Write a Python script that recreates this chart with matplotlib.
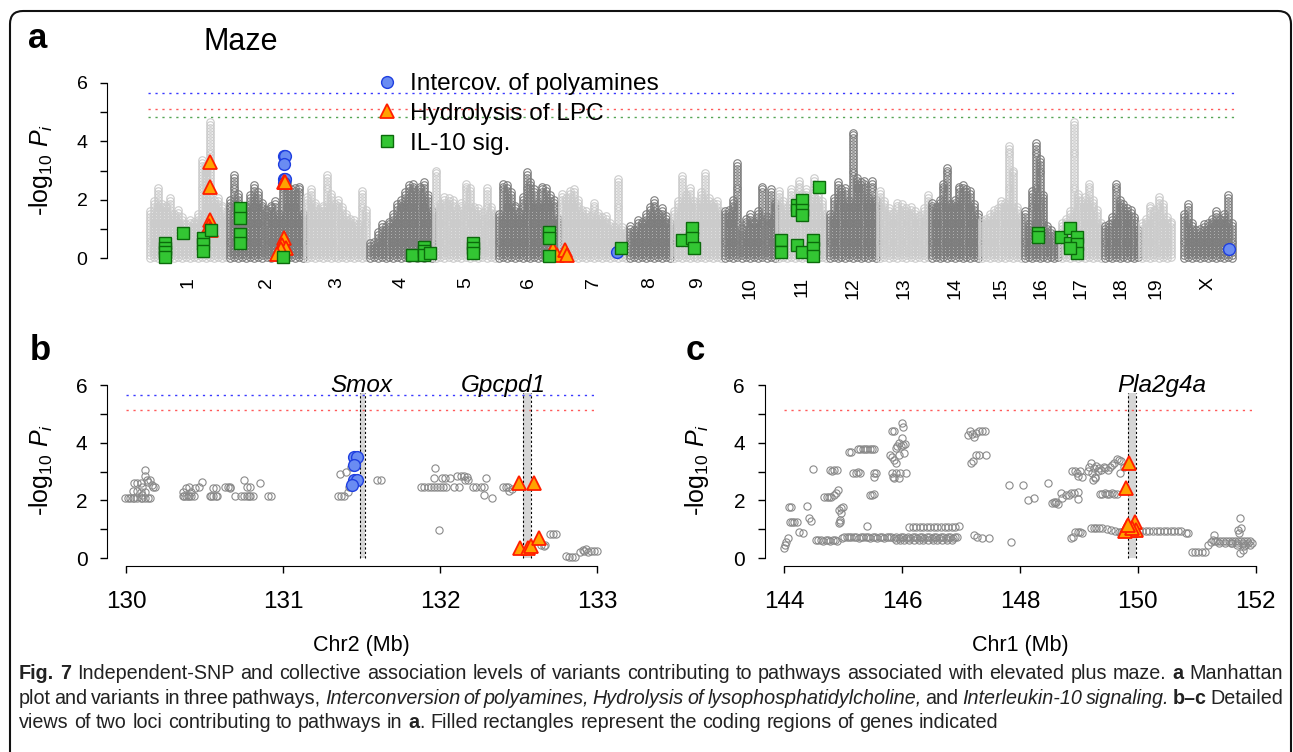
import numpy as np
import matplotlib
matplotlib.use('Agg')
import matplotlib.pyplot as plt
from matplotlib.lines import Line2D
from matplotlib.patches import FancyBboxPatch, Rectangle
from matplotlib import font_manager

plt.rcParams['font.family'] = ['Liberation Sans', 'DejaVu Sans']
plt.rcParams['mathtext.fontset'] = 'custom'
plt.rcParams['mathtext.rm'] = 'Liberation Sans'
plt.rcParams['mathtext.it'] = 'Liberation Sans:italic'
plt.rcParams['mathtext.bf'] = 'Liberation Sans:bold'

# ---------------- data ----------------
# panel a: chromosome spans on the cumulative genome axis
chroms = ['1', '2', '3', '4', '5', '6', '7', '8', '9', '10',
          '11', '12', '13', '14', '15', '16', '17', '18', '19', 'X']
chrom_start = [148, 228, 305, 368, 434, 497, 560, 628, 672, 723,
               777, 828, 878, 930, 980, 1023, 1060, 1103, 1140, 1182]
chrom_end = [228, 305, 368, 434, 497, 560, 628, 672, 723, 777,
             828, 878, 930, 980, 1023, 1060, 1103, 1140, 1173, 1234]

# column tops (-log10 P) read across each chromosome, left to right
peaks_chr1 = [1.6, 2.0, 2.4, 1.9, 1.8, 2.1, 1.5, 1.7, 1.4, 1.2, 1.3, 1.3, 1.5, 3.4, 3.2, 4.7, 2.0, 2.1, 1.8, 1.5]
peaks_chr2 = [2.0, 2.9, 2.2, 1.6, 1.8, 2.2, 2.5, 2.3, 1.9, 1.7, 1.8, 2.0, 1.5, 2.8, 2.7, 2.4, 2.4, 2.5, 1.5]
peaks_chr3 = [2.1, 2.4, 1.9, 1.7, 1.8, 2.9, 2.2, 1.9, 2.0, 1.8, 1.5, 1.4, 1.3, 1.2, 2.3, 1.7]
peaks_chr4 = [0.5, 0.6, 0.9, 1.2, 1.1, 1.3, 1.5, 1.9, 2.0, 2.3, 2.5, 2.6, 2.3, 2.5, 2.6, 2.2, 1.6]
peaks_chr5 = [3.0, 1.9, 2.1, 2.1, 2.0, 1.7, 1.9, 2.6, 2.4, 1.8, 1.7, 1.6, 2.4, 1.8, 1.5]
peaks_chr6 = [1.5, 2.6, 2.5, 2.3, 1.8, 1.6, 2.1, 2.95, 2.6, 2.4, 1.9, 2.5, 2.4, 2.2, 2.0, 1.4]
peaks_chr7 = [2.2, 2.1, 2.3, 2.4, 2.0, 1.7, 1.6, 1.5, 1.9, 1.6, 1.4, 1.5, 1.2, 1.1, 2.7, 1.1, 0.9]
peaks_chr8 = [1.1, 1.0, 1.3, 1.3, 1.5, 1.8, 2.0, 1.6, 1.7, 1.5, 1.2]
peaks_chr9 = [1.6, 2.0, 2.85, 2.2, 2.4, 2.0, 1.9, 2.3, 2.9, 2.1, 1.9, 2.0, 1.6]
peaks_chr10 = [1.6, 1.7, 2.0, 3.3, 1.0, 1.4, 1.5, 1.3, 1.6, 2.45, 1.4, 2.4, 1.9]
peaks_chr11 = [2.3, 2.0, 1.7, 2.35, 2.0, 2.7, 2.2, 2.4, 2.0, 2.75, 2.2, 2.0, 1.5]
peaks_chr12 = [1.5, 2.1, 2.6, 2.4, 2.45, 2.0, 4.33, 2.8, 2.6, 2.65, 2.1, 2.65, 2.0]
peaks_chr13 = [2.3, 2.0, 1.7, 1.6, 1.9, 1.85, 1.7, 1.8, 1.6, 1.5, 1.7, 2.15]
peaks_chr14 = [1.9, 1.8, 2.0, 2.6, 3.15, 1.9, 2.0, 2.5, 2.5, 2.4, 2.3, 1.9, 1.5]
peaks_chr15 = [1.3, 1.4, 1.5, 1.7, 1.7, 2.0, 1.9, 3.87, 3.0, 1.75, 1.4]
peaks_chr16 = [1.6, 1.2, 2.3, 3.98, 3.4, 2.2, 1.1, 1.0, 0.8, 0.6]
peaks_chr17 = [1.2, 1.35, 1.6, 4.67, 2.2, 2.0, 2.1, 2.56, 2.0, 1.7, 1.2]
peaks_chr18 = [1.1, 1.2, 1.4, 2.55, 2.0, 1.93, 1.7, 1.65, 1.4, 1.0]
peaks_chr19 = [1.2, 1.4, 1.87, 1.7, 2.16, 1.9, 1.4, 1.3]
peaks_chrX = [1.5, 1.89, 1.2, 0.96, 1.0, 1.24, 1.2, 1.4, 1.6, 1.4, 1.5, 2.16, 1.2]
peaks = [peaks_chr1, peaks_chr2, peaks_chr3, peaks_chr4, peaks_chr5, peaks_chr6,
         peaks_chr7, peaks_chr8, peaks_chr9, peaks_chr10, peaks_chr11, peaks_chr12,
         peaks_chr13, peaks_chr14, peaks_chr15, peaks_chr16, peaks_chr17, peaks_chr18,
         peaks_chr19, peaks_chrX]

# pathway variants in panel a (cumulative position, -log10 P)
poly_pos = [284, 285, 284, 284, 285, 284, 617, 1229]
poly_p = [3.50, 3.48, 3.21, 2.72, 2.70, 2.57, 0.20, 0.31]
lpc_pos = [210, 210, 210, 209, 210, 211, 284, 285, 284, 282, 286, 281, 277, 553, 557, 565, 567]
lpc_p = [3.30, 2.45, 1.30, 1.10, 1.00, 0.95, 2.62, 2.60, 0.70, 0.45, 0.35, 0.30, 0.15, 0.30, 0.12, 0.28, 0.10]
il10_pos = [165, 165, 165, 165, 183, 203, 203, 203, 211, 240, 240, 240, 240, 283,
            412, 424, 424, 424, 430, 473, 473, 473, 549, 549, 549, 621,
            682, 692, 692, 694, 781, 781, 797, 797, 802, 802, 802, 797, 802,
            813, 813, 813, 819, 1038, 1038, 1061, 1070, 1070, 1077, 1077, 1077, 1070]
il10_p = [0.52, 0.35, 0.20, 0.05, 0.87, 0.70, 0.47, 0.24, 0.96, 1.72, 1.38, 0.82, 0.50, 0.05,
          0.10, 0.39, 0.25, 0.10, 0.16, 0.50, 0.33, 0.16, 0.90, 0.67, 0.07, 0.35,
          0.62, 1.02, 0.67, 0.33, 0.62, 0.22, 1.82, 1.64, 1.99, 1.64, 1.47, 0.45, 0.22,
          0.62, 0.33, 0.07, 2.44, 0.85, 0.71, 0.73, 1.02, 0.50, 0.71, 0.48, 0.16, 0.33]

# significance thresholds
thr_poly, thr_lpc, thr_il10 = 5.65, 5.12, 4.84

# panel b: Chr2 locus (Mb, -log10 P)
b_mb = [129.99, 130.01, 130.02, 130.04, 130.05, 130.07, 130.09, 130.10, 130.12, 130.14, 130.15,
        130.04, 130.07, 130.05, 130.07, 130.09, 130.10, 130.12, 130.12, 130.13, 130.14, 130.15,
        130.16, 130.17, 130.18, 130.10, 130.12, 130.09,
        130.36, 130.37, 130.38, 130.39, 130.40, 130.41, 130.43, 130.36, 130.38, 130.40, 130.41,
        130.44, 130.46, 130.48, 130.53, 130.54, 130.55, 130.57, 130.58, 130.55, 130.57, 130.63,
        130.65, 130.66, 130.66, 130.69, 130.73, 130.75, 130.77, 130.78, 130.79, 130.81, 130.75,
        130.77, 130.79, 130.85, 130.90, 130.92,
        131.35, 131.37, 131.39, 131.36, 131.40, 131.41, 131.42, 131.43,
        131.60, 131.62,
        131.88, 131.90, 131.92, 131.94, 131.96, 131.98, 132.00, 132.02, 132.04, 132.09,
        131.96, 131.97, 131.99, 132.01, 132.03, 132.06, 132.11, 132.13, 132.15, 132.17, 132.18,
        132.21, 132.23, 132.26, 132.28, 132.29, 132.28, 132.33, 132.16, 132.12,
        132.40, 132.42, 132.43, 132.44, 132.46,
        132.64, 132.66, 132.67, 132.70, 132.72, 132.74,
        132.80, 132.82, 132.84, 132.86, 132.89, 132.91, 132.92, 132.94, 132.96, 132.98, 133.00, 132.93]
b_p = [2.08, 2.08, 2.08, 2.08, 2.08, 2.08, 2.08, 2.08, 2.08, 2.08, 2.08,
       2.34, 2.34, 2.59, 2.59, 2.59, 2.45, 2.85, 3.06, 2.71, 2.65, 2.71,
       2.53, 2.45, 2.45, 2.19, 2.30, 2.30,
       2.15, 2.15, 2.15, 2.15, 2.15, 2.15, 2.15, 2.30, 2.42, 2.45, 2.30,
       2.42, 2.45, 2.65, 2.15, 2.15, 2.15, 2.15, 2.15, 2.42, 2.42, 2.48,
       2.45, 2.48, 2.42, 2.15, 2.15, 2.15, 2.15, 2.15, 2.15, 2.15, 2.71,
       2.48, 2.48, 2.59, 2.15, 2.15,
       2.15, 2.15, 2.15, 2.92, 3.00, 2.30, 2.45, 3.17,
       2.71, 2.71,
       2.48, 2.48, 2.48, 2.48, 2.48, 2.48, 2.48, 2.48, 2.48, 2.48,
       2.79, 3.11, 0.97, 2.79, 2.79, 2.79, 2.85, 2.85, 2.85, 2.82, 2.71,
       2.48, 2.48, 2.48, 2.48, 2.79, 2.19, 2.08, 2.71, 2.48,
       2.48, 2.48, 2.48, 2.34, 2.40,
       0.45, 0.42, 0.45, 0.82, 0.84, 0.84,
       0.07, 0.05, 0.05, 0.05, 0.22, 0.28, 0.24, 0.22, 0.24, 0.24, 0.24, 0.32]
b_poly_mb = [131.45, 131.47, 131.45, 131.45, 131.47, 131.44]
b_poly_p = [3.52, 3.52, 3.21, 2.71, 2.71, 2.53]
b_lpc_mb = [132.50, 132.60, 132.51, 132.56, 132.58, 132.63]
b_lpc_p = [2.60, 2.60, 0.36, 0.36, 0.42, 0.70]
b_genes = ['Smox', 'Gpcpd1']
b_gene_start = [131.488, 132.529]
b_gene_end = [131.520, 132.582]
b_gene_label_x = [131.50, 132.40]

# panel c: Chr1 locus (Mb, -log10 P)
c_mb = [144.00, 144.01, 144.03, 144.06, 144.08, 144.11, 144.09, 144.13, 144.17, 144.21, 144.25,
        144.31, 144.39, 144.42, 144.46, 144.49,
        144.53, 144.58, 144.62, 144.66, 144.70, 144.74, 144.78, 144.82, 144.86, 144.90,
        144.67, 144.72, 144.76, 144.80, 144.84, 144.88, 144.91,
        144.77, 144.81, 144.85, 144.89,
        144.93, 144.95, 144.97, 144.93, 144.96, 144.99, 144.95,
        144.98, 145.02, 145.06, 145.10, 145.14, 145.18, 145.22, 145.26, 145.30, 145.34, 145.38,
        145.42, 145.46, 145.50, 145.54, 145.58, 145.62, 145.66, 145.70, 145.74, 145.78, 145.82,
        145.86, 145.90, 145.94, 145.98, 146.02, 146.06, 146.10, 146.14, 146.18, 146.22, 146.26,
        146.30, 146.34, 146.38, 146.42, 146.46, 146.50, 146.54, 146.58, 146.62, 146.66, 146.70,
        146.74, 146.78, 146.82, 146.86, 146.90, 146.94,
        145.90, 145.96, 146.04, 146.12, 146.20, 146.28, 146.36, 146.44, 146.52, 146.60, 146.68,
        146.76, 146.84,
        146.12, 146.18, 146.24, 146.30, 146.36, 146.42, 146.48, 146.54, 146.60, 146.66, 146.72,
        146.78, 146.84, 146.90, 146.96,
        145.10, 145.14, 145.17, 145.25, 145.29, 145.33, 145.37, 145.41, 145.45, 145.49, 145.53,
        145.21, 145.25, 145.29, 145.41, 145.45, 145.49, 145.53, 145.52, 145.55, 145.53,
        145.83, 145.86, 145.80, 145.83, 145.86, 145.90, 145.83, 145.85, 145.87, 145.90, 145.94,
        145.97, 146.07, 145.89, 145.92, 145.95, 145.98, 146.00, 146.02, 146.05, 146.03, 146.00,
        146.01, 145.95,
        147.12, 147.15, 147.18, 147.22, 147.25, 147.30, 147.36, 147.40, 147.20, 147.17, 147.26,
        147.30, 147.43, 147.22, 147.27, 147.35, 147.47,
        147.81, 147.85, 148.06, 148.13, 148.24, 148.48,
        148.55, 148.58, 148.60, 148.62, 148.65, 148.69, 148.72, 148.78, 148.83, 148.87, 148.92,
        148.98, 148.98,
        148.88, 148.94, 148.97, 149.02, 148.99, 149.05,
        148.87, 148.90, 148.94, 148.98, 149.02, 149.06,
        149.15, 149.18, 149.20, 149.22, 149.25, 149.27, 149.30, 149.32, 149.35, 149.38, 149.42,
        149.45, 149.49, 149.53, 149.57, 149.60, 149.64, 149.68, 149.72, 149.76, 149.70, 149.24,
        149.28,
        149.36, 149.40, 149.44, 149.48, 149.52, 149.56, 149.60, 149.64,
        149.20, 149.25, 149.30, 149.35, 149.40, 149.48, 149.55, 149.62, 149.68, 149.72, 149.76,
        149.80,
        150.02, 150.08, 150.14, 150.20, 150.26, 150.32, 150.38, 150.44, 150.50, 150.56, 150.62,
        150.68, 150.74, 150.82, 150.86,
        150.92, 150.98, 151.03, 151.09, 151.14,
        151.20, 151.24, 151.28, 151.30, 151.32, 151.35, 151.40, 151.45, 151.50, 151.55, 151.60,
        151.65, 151.70, 151.75, 151.80, 151.85, 151.90,
        151.38, 151.48, 151.58, 151.68, 151.78, 151.88,
        151.73, 151.70, 151.76, 151.72, 151.74, 151.78, 151.80, 151.82, 151.94, 151.90, 151.68,
        151.60]
c_p = [0.34, 0.45, 0.55, 0.68, 1.78, 1.77, 1.26, 1.26, 1.26, 1.26, 0.90,
       0.88, 1.81, 1.38, 1.30, 3.08,
       0.63, 0.63, 0.63, 0.60, 0.63, 0.63, 0.60, 0.63, 0.63, 0.60,
       2.13, 2.13, 2.13, 2.13, 2.19, 2.25, 2.36,
       3.06, 3.03, 3.06, 3.06,
       1.20, 1.32, 1.55, 1.67, 1.72, 1.78, 1.26,
       0.71, 0.72, 0.72, 0.72, 0.72, 0.72, 0.72, 0.71, 0.72, 0.72, 0.72,
       0.72, 0.71, 0.72, 0.72, 0.71, 0.72, 0.72, 0.71, 0.72, 0.74, 0.72,
       0.71, 0.72, 0.71, 0.72, 0.72, 0.71, 0.72, 0.71, 0.72, 0.72, 0.71,
       0.72, 0.72, 0.71, 0.72, 0.72, 0.71, 0.72, 0.72, 0.71, 0.72, 0.72,
       0.71, 0.72, 0.72, 0.71, 0.72, 0.72,
       0.63, 0.63, 0.64, 0.63, 0.63, 0.64, 0.63, 0.63, 0.64, 0.63, 0.63,
       0.64, 0.63,
       1.08, 1.08, 1.08, 1.08, 1.08, 1.08, 1.08, 1.08, 1.08, 1.08, 1.08,
       1.08, 1.08, 1.08, 1.10,
       3.69, 3.66, 2.94, 3.77, 3.77, 3.77, 3.77, 3.77, 3.77, 3.77, 3.77,
       2.96, 2.98, 2.96, 1.11, 2.19, 2.19, 2.22, 2.96, 2.96, 2.82,
       4.39, 4.39, 3.58, 3.52, 3.40, 3.29, 2.94, 2.82, 2.77, 2.94, 2.77,
       2.94, 2.94, 3.82, 3.87, 3.98, 3.90, 4.16, 3.93, 3.95, 3.63, 4.68,
       4.56, 3.58,
       4.25, 4.39, 4.30, 4.21, 4.33, 4.39, 4.39, 4.39, 3.36, 3.29, 3.58,
       3.58, 3.58, 0.80, 0.72, 0.68, 0.68,
       2.53, 0.55, 2.53, 2.01, 2.07, 2.59,
       1.90, 1.93, 1.90, 1.93, 1.87, 2.27, 2.07, 2.19, 2.19, 2.25, 2.25,
       2.04, 2.28,
       3.03, 3.03, 2.96, 3.03, 2.85, 2.82,
       0.71, 0.74, 0.91, 0.91, 0.91, 0.86,
       3.03, 3.17, 3.29, 2.94, 3.11, 2.82, 3.20, 3.03, 3.11, 3.06, 3.17,
       3.11, 3.06, 3.17, 3.24, 3.31, 3.43, 3.39, 3.37, 3.17, 2.96, 2.71,
       2.77,
       2.22, 2.22, 2.27, 2.22, 2.22, 2.27, 2.22, 2.22,
       1.05, 1.03, 1.05, 1.03, 1.03, 1.00, 0.97, 0.93, 0.91, 0.91, 0.93,
       0.91,
       0.93, 0.93, 0.93, 0.93, 0.93, 0.93, 0.93, 0.93, 0.93, 0.93, 0.93,
       0.93, 0.93, 0.86, 0.86,
       0.22, 0.22, 0.22, 0.22, 0.22,
       0.45, 0.57, 0.63, 0.80, 0.60, 0.60, 0.60, 0.60, 0.60, 0.60, 0.60,
       0.60, 0.60, 0.60, 0.60, 0.60, 0.60,
       0.53, 0.53, 0.53, 0.53, 0.53, 0.53,
       1.38, 0.97, 1.03, 0.86, 0.16, 0.28, 0.40, 0.45, 0.51, 0.45, 0.45,
       0.51]
c_lpc_mb = [149.85, 149.80, 149.95, 149.81, 149.88, 149.97, 149.79, 149.90, 149.84]
c_lpc_p = [3.29, 2.42, 1.26, 1.09, 0.97, 0.97, 0.94, 1.05, 1.15]
c_genes = ['Pla2g4a']
c_gene_start = [149.83]
c_gene_end = [149.97]
c_gene_label_x = [150.41]

legend_labels = ['Intercov. of polyamines', 'Hydrolysis of LPC', 'IL-10 sig.']

# ---------------- styles ----------------
W, H = 1293, 752
light_gray, dark_gray = '#cbcbcb', '#7d7d7d'
poly_style = dict(marker='o', ls='', mfc='#6a8cf2', mec='#1f3fe0', mew=1.0, ms=8.5)
lpc_style = dict(marker='^', ls='', mfc='#ffa200', mec='#ff1e00', mew=1.3, ms=9.5)
il10_style = dict(marker='s', ls='', mfc='#33c633', mec='#0b6a0b', mew=1.0, ms=8)
thr_colors = ['#3a3aff', '#ff5a5a', '#55a555']
dots = (0, (1.6, 3.4))

fig = plt.figure(figsize=(W / 100, H / 100), dpi=100)


def px_axes(left, top, right, bottom):
    return fig.add_axes([left / W, 1 - bottom / H, (right - left) / W, (bottom - top) / H])


def style_y(ax, fs, pad):
    ax.set_yticks(range(7))
    ax.set_yticklabels(['0', '', '2', '', '4', '', '6'], fontsize=fs)
    ax.spines['left'].set_bounds(0, 6)
    ax.tick_params(axis='y', length=5, width=1, pad=pad)
    for s in ['top', 'right']:
        ax.spines[s].set_visible(False)


ylab = r'-log$_{10}$ $P_{i}$'

# ---------------- panel a ----------------
ax = px_axes(107, 75, 1245, 266)
ax.set_xlim(107, 1245)
ax.set_ylim(-0.274, 6.274)
for i in range(len(chroms)):
    col = light_gray if i % 2 == 0 else dark_gray
    xs = np.linspace(chrom_start[i] + 2, chrom_end[i] - 2, len(peaks[i]))
    for j, (x, top) in enumerate(zip(xs, peaks[i])):
        # every second column is drawn half a step higher so the stacks interleave
        ys = np.arange(0.05 * (j % 2), top + 0.001, 0.1)
        ax.plot(np.full(len(ys), x), ys, ls='', marker='o', ms=5.4, mfc='none',
                mec=col, mew=0.8, zorder=1)
for thr, c in zip([thr_poly, thr_lpc, thr_il10], thr_colors):
    ax.plot([chrom_start[0], chrom_end[-1]], [thr, thr], color=c, lw=1.0, ls=dots, zorder=0)
ax.plot(poly_pos, poly_p, zorder=3, **poly_style)
ax.plot(lpc_pos, lpc_p, zorder=4, **lpc_style)
ax.plot(il10_pos, il10_p, zorder=5, **il10_style)
style_y(ax, 14, 9)
ax.spines['bottom'].set_visible(False)
mids = [(s + e) / 2 for s, e in zip(chrom_start, chrom_end)]
ax.set_xticks(mids)
ax.set_xticklabels(chroms, rotation=90, fontsize=14)
ax.tick_params(axis='x', length=0, pad=8)
ax.set_ylabel(ylab, fontsize=18)
ax.yaxis.set_label_coords(-0.046, 0.5)
handles = [Line2D([], [], **poly_style), Line2D([], [], **lpc_style), Line2D([], [], **il10_style)]
ax.legend(handles, legend_labels, loc='upper left', bbox_to_anchor=(375 / W, 1 - 73 / H),
          bbox_transform=fig.transFigure, frameon=False, fontsize=17.6, handlelength=0.95,
          handletextpad=0.5, labelspacing=0.32, borderpad=0, borderaxespad=0)

# ---------------- panels b and c ----------------
def locus_panel(ax, mb, p, genes, g0, g1, glx, thrs, thr_cols):
    for x0, x1, name, lx in zip(g0, g1, genes, glx):
        ax.add_patch(Rectangle((x0, 0), x1 - x0, 5.72, fc='#d6d6d6', ec='none', zorder=0))
        for xe in (x0, x1):
            ax.plot([xe, xe], [0, 5.72], color='k', lw=0.8, ls=(0, (2, 2)), zorder=1)
        ax.text(lx, 5.98, name, ha='center', va='center', fontsize=17.5, style='italic', zorder=6)
    for thr, c in zip(thrs, thr_cols):
        ax.plot([mb_lo[ax], mb_hi[ax]], [thr, thr], color=c, lw=1.0, ls=dots, zorder=0)
    ax.plot(mb, p, ls='', marker='o', ms=5.2, mfc='none', mec='#8a8a8a', mew=0.8, zorder=2)
    style_y(ax, 15, 9)
    ax.spines['bottom'].set_bounds(mb_lo[ax], mb_hi[ax])
    ax.tick_params(axis='x', length=5, width=1, pad=13, labelsize=17.5)
    ax.set_ylabel(ylab, fontsize=18)


axb = px_axes(107, 375, 610, 566)
axb.set_xlim(129.876, 133.083)
axb.set_ylim(-0.277, 6.347)
axc = px_axes(764.5, 375, 1268, 566)
axc.set_xlim(143.664, 152.212)
axc.set_ylim(-0.277, 6.347)
mb_lo = {axb: 130, axc: 144}
mb_hi = {axb: 133, axc: 152}

locus_panel(axb, b_mb, b_p, b_genes, b_gene_start, b_gene_end, b_gene_label_x,
            [thr_poly, thr_lpc], thr_colors[:2])
axb.plot(b_poly_mb, b_poly_p, zorder=3, **poly_style)
axb.plot(b_lpc_mb, b_lpc_p, zorder=4, **lpc_style)
axb.set_xticks([130, 131, 132, 133])
axb.yaxis.set_label_coords(-0.104, 0.5)

locus_panel(axc, c_mb, c_p, c_genes, c_gene_start, c_gene_end, c_gene_label_x,
            [thr_lpc], thr_colors[1:2])
axc.plot(c_lpc_mb, c_lpc_p, zorder=4, **lpc_style)
axc.set_xticks([144, 146, 148, 150, 152])
axc.yaxis.set_label_coords(-0.106, 0.5)

fig.text(361 / W, 1 - 645 / H, 'Chr2 (Mb)', ha='center', va='center', fontsize=15.5)
fig.text(1020 / W, 1 - 645 / H, 'Chr1 (Mb)', ha='center', va='center', fontsize=15.5)

# titles and panel letters
fig.text(204 / W, 1 - 50 / H, 'Maze', fontsize=22, ha='left', va='baseline')
fig.text(28 / W, 1 - 48 / H, 'a', fontsize=25, weight='bold', ha='left', va='baseline')
fig.text(30 / W, 1 - 360 / H, 'b', fontsize=25, weight='bold', ha='left', va='baseline')
fig.text(686 / W, 1 - 360 / H, 'c', fontsize=25, weight='bold', ha='left', va='baseline')

# border
fig.patches.append(FancyBboxPatch((0.10, -0.5), 12.81, 7.41 + 0.5, boxstyle='round,pad=0,rounding_size=0.13',
                                  transform=fig.dpi_scale_trans, fc='none', ec='#111111', lw=1.5))

# ---------------- caption ----------------
try:
    font_manager.findfont('Liberation Sans Narrow', fallback_to_default=False)
    cap_font = 'Liberation Sans Narrow'
except ValueError:
    cap_font = 'Liberation Sans'

cap_lines = [
    [('Fig. 7', 'bold'), (' Independent-SNP and collective association levels of variants contributing to '
                          'pathways associated with elevated plus maze. ', 'normal'),
     ('a', 'bold'), (' Manhattan', 'normal')],
    [('plot and variants in three pathways, ', 'normal'), ('Interconversion of polyamines,', 'italic'),
     (' ', 'normal'), ('Hydrolysis of lysophosphatidylcholine,', 'italic'), (' and ', 'normal'),
     ('Interleukin-10 signaling.', 'italic'), (' ', 'normal'), ('b–c', 'bold'), (' Detailed', 'normal')],
    [('views of two loci contributing to pathways in ', 'normal'), ('a', 'bold'),
     ('. Filled rectangles represent the coding regions of genes indicated', 'normal')],
]
cap_style = {'normal': {}, 'bold': {'weight': 'bold'}, 'italic': {'style': 'italic'}}
renderer = fig.canvas.get_renderer()


def cap_text(x, yb, s, st, fs):
    return fig.text(x / W, 1 - yb / H, s, fontsize=fs, family=cap_font, ha='left',
                    va='baseline', color='#222222', **cap_style[st])


def box_w(s, st, fs):
    t = cap_text(0, 0, s, st, fs)
    w = t.get_window_extent(renderer).width
    t.remove()
    return w


def step_w(s, st, fs):
    # horizontal advance of a word: its box width minus the box slack of the style
    slack = 2 * box_w('nn', st, fs) - box_w('nnnn', st, fs)
    return box_w(s, st, fs) - slack


def split_words(segs):
    words, gap = [], False
    for s, st in segs:
        parts = s.split(' ')
        for i, w in enumerate(parts):
            if i > 0:
                gap = True
            if w:
                words.append((w, st, gap))
                gap = False
    return words


def natural(words, fs):
    sp = box_w('n n', 'normal', fs) - box_w('nn', 'normal', fs)
    ws = [step_w(w, st, fs) for w, st, g in words]
    return ws, sp, sum(ws) + sp * sum(1 for w in words if w[2])


x0, x1 = 19, 1283
_, _, nat = natural(split_words(cap_lines[0]), 12)
cap_fs = 12 * (x1 - x0 - 6) / nat
for k, (segs, yb) in enumerate(zip(cap_lines, [679, 704, 728])):
    words = split_words(segs)
    ws, sp, nat = natural(words, cap_fs)
    ngaps = sum(1 for w in words if w[2])
    extra = (x1 - x0 - nat) / ngaps if k < 2 else 0
    x = x0
    for (w, st, g), ww in zip(words, ws):
        if g:
            x += sp + extra
        cap_text(x, yb, w, st, cap_fs)
        x += ww

fig.savefig('out.png', dpi=100)
